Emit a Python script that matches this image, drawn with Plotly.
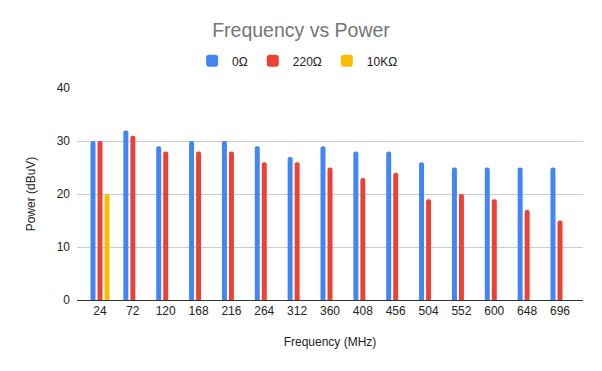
import plotly.graph_objects as go

categories = ["24", "72", "120", "168", "216", "264", "312", "360", "408", "456", "504", "552", "600", "648", "696"]
ohm0 = [30, 32, 29, 30, 30, 29, 27, 29, 28, 28, 26, 25, 25, 25, 25]
ohm220 = [30, 31, 28, 28, 28, 26, 26, 25, 23, 24, 19, 20, 19, 17, 15]
ohm10k = [20, None, None, None, None, None, None, None, None, None, None, None, None, None, None]
series_names = ["0Ω", "220Ω", "10KΩ"]
colors = ["#4285F4", "#EA4335", "#FBBC04"]

fig = go.Figure()
for name, vals, c in zip(series_names, [ohm0, ohm220, ohm10k], colors):
    fig.add_trace(go.Bar(x=categories, y=vals, name=name, marker=dict(color=c, line=dict(width=0))))

font = "Arial, 'Liberation Sans', sans-serif"
fig.update_layout(
    width=602, height=371,
    paper_bgcolor="white", plot_bgcolor="white",
    margin=dict(l=77, r=19, t=88, b=71, autoexpand=False),
    barmode="group", bargap=0.36, bargroupgap=0.29, barcornerradius=2,
    font=dict(family=font, size=12, color="#222222"),
    title=dict(text="Frequency vs Power", x=0.5, xanchor="center", y=0.918, yanchor="middle",
               font=dict(family=font, size=19.5, color="#757575")),
    legend=dict(orientation="h", x=0.436, xanchor="center", y=1.128, yanchor="middle",
                font=dict(family=font, size=12, color="#222222"), itemwidth=30,
                traceorder="normal"),
    showlegend=True,
)
fig.update_xaxes(type="category", range=[-0.7, 14.7], showgrid=False, showline=True, automargin=False,
                 linecolor="#333333", linewidth=1, ticks="", tickfont=dict(size=12, color="#222222"),
                 title=dict(text="Frequency (MHz)", font=dict(size=12, color="#222222"), standoff=20))
fig.update_yaxes(range=[0, 40], dtick=10, showgrid=True, gridcolor="#cccccc", gridwidth=1, automargin=False,
                 zeroline=False, showline=False, ticks="", ticklabelstandoff=6,
                 tickfont=dict(size=12, color="#222222"),
                 title=dict(text="Power (dBuV)", font=dict(size=12, color="#222222"), standoff=18))

fig.write_html("out.html", config={"displayModeBar": False},
               post_script="document.body.style.margin='0';")
